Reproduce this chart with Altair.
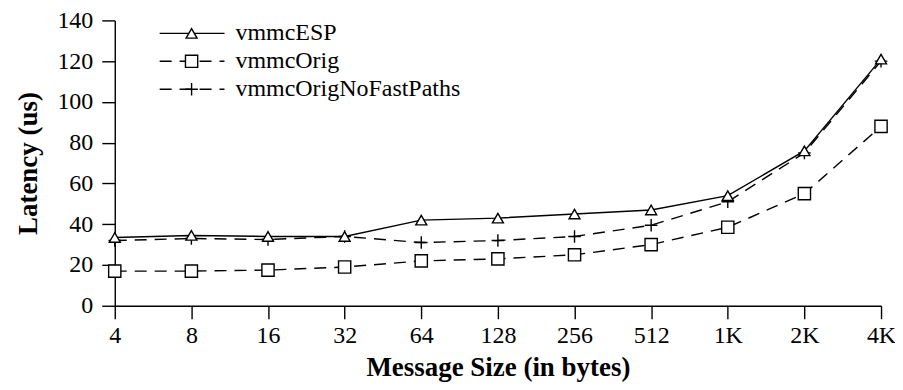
import altair as alt
import pandas as pd

sizes = ["4", "8", "16", "32", "64", "128", "256", "512", "1K", "2K", "4K"]
esp = [33.5, 34.5, 34, 34, 42, 43, 45, 47, 54, 76, 121]
orig = [17, 17, 17.5, 19, 22, 23, 25, 30, 38.5, 55, 88]
nofast = [32, 33, 32.5, 34, 31, 32, 34, 39.5, 51, 75, 120]
series_names = ["vmmcESP", "vmmcOrig", "vmmcOrigNoFastPaths"]
y_ticks = [0, 20, 40, 60, 80, 100, 120, 140]

FONT = "Liberation Serif"
CROSS = "M-1,0H1M0,-1V1"

def frame(vals):
    return pd.DataFrame({"size": sizes, "lat": vals})

x_enc = alt.X("size:O", sort=sizes,
              scale=alt.Scale(type="point", padding=0),
              axis=alt.Axis(title="Message Size (in bytes)", labelAngle=0,
                            tickSize=13, labelPadding=5, titlePadding=7))
y_enc = alt.Y("lat:Q", scale=alt.Scale(domain=[0, 140], nice=False, zero=True),
              axis=alt.Axis(title="Latency (us)", values=y_ticks, tickSize=13,
                            labelPadding=9, titlePadding=14))

def series(vals, dash, shape, size):
    base = alt.Chart(frame(vals)).encode(x=x_enc, y=y_enc)
    line_kw = dict(color="black", strokeWidth=1.4)
    if dash:
        line_kw["strokeDash"] = [12, 8]
    line = base.mark_line(**line_kw)
    pt = base.mark_point(shape=shape, size=size, filled=False, stroke="black",
                         fill="white", fillOpacity=1, strokeWidth=1.4, opacity=1)
    return [line, pt]

layers = []
layers += series(orig, True, "square", 150)
layers += series(nofast, True, CROSS, 160)
layers += series(esp, False, "triangle-up", 120)

one = lambda n: alt.Data(values=[{"s": n}])
leg_y = [13, 41, 69]
leg_shapes = ["triangle-up", "square", CROSS]
leg_sizes = [120, 150, 160]
leg_dash = [None, [12, 8], [12, 8]]
for i, n in enumerate(series_names):
    rk = dict(color="black", strokeWidth=1.4)
    if leg_dash[i]:
        rk["strokeDash"] = leg_dash[i]
    layers.append(alt.Chart(one(n)).mark_rule(**rk).encode(
        x=alt.value(45), x2=alt.value(110), y=alt.value(leg_y[i])))
    layers.append(alt.Chart(one(n)).mark_point(
        shape=leg_shapes[i], size=leg_sizes[i], stroke="black", fill="white",
        fillOpacity=1, strokeWidth=1.4, opacity=1).encode(
        x=alt.value(77), y=alt.value(leg_y[i])))
    layers.append(alt.Chart(one(n)).mark_text(
        align="left", baseline="middle", font=FONT, fontSize=24, color="black").encode(
        x=alt.value(121), y=alt.value(leg_y[i]), text="s:N"))

chart = alt.layer(*layers).properties(
    width=768, height=286,
    autosize=alt.AutoSizeParams(type="none"),
    padding={"left": 107, "top": 12, "right": 14, "bottom": 76},
).configure_view(stroke=None).configure_axis(
    grid=False, domainColor="black", tickColor="black", labelColor="black",
    titleColor="black", labelFont=FONT, titleFont=FONT, labelFontSize=24,
    titleFontSize=27, titleFontWeight="bold", domainWidth=1.4, tickWidth=1.4,
)

chart.save("out.html", embed_options={"renderer": "svg", "actions": False})
